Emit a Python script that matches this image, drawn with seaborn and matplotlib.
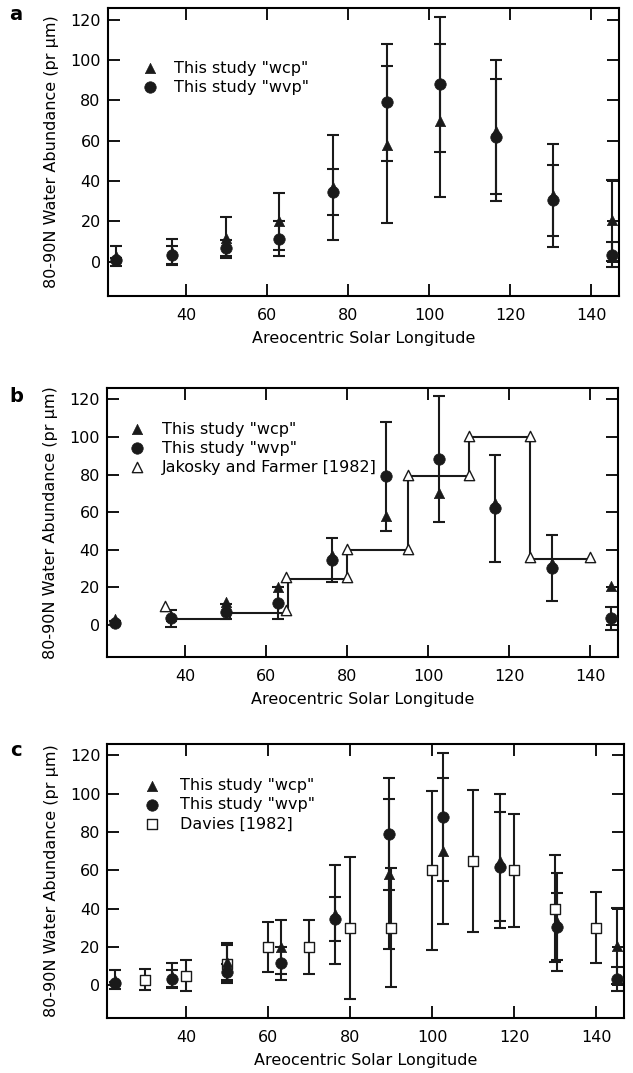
import matplotlib
matplotlib.use('Agg')
import matplotlib.pyplot as plt
import seaborn as sns

# =========== DATA ===================================
# This study, 80-90N water abundance vs areocentric solar longitude
ls_study = [22.7, 36.5, 50, 63, 76.3, 89.5, 102.7, 116.5, 130.5, 145]
wcp = [3, 5, 12, 20, 37, 58, 70, 65, 33, 20.5]
wcp_err = [5, 6.5, 10, 14, 26, 39, 38, 35, 25.5, 20]
wvp = [1, 3.5, 7, 11.5, 34.5, 79, 88, 62, 30.5, 3.5]
wvp_err = [1, 4.5, 4, 8.5, 11.5, 29, 33.5, 28.5, 17.5, 6.2]

# Jakosky and Farmer [1982]: step line plus open triangles at the step ends
jf_step_ls = [36, 51, 65.5, 80, 95, 110, 125, 140]
jf_step_val = [3, 6.5, 24.5, 40, 79, 100, 35, 35]
jf_tri_ls = [35, 65, 65, 80, 80, 95, 95, 110, 110, 125, 125, 140]
jf_tri_val = [10, 8, 25.5, 25.5, 40.5, 40.5, 79.5, 79.5, 100.5, 100.5, 36, 36]

# Davies [1982]
dav_ls = [30, 40, 50, 60, 70, 80, 90, 100, 110, 120, 130, 140]
dav_val = [3, 5, 11, 20, 20, 30, 30, 60, 65, 60, 40, 30]
dav_err = [5.5, 8, 10, 13, 14, 37, 31, 41.5, 37, 29.5, 28, 18.5]

xticks = [40, 60, 80, 100, 120, 140]
yticks = [0, 20, 40, 60, 80, 100, 120]
xlabel = 'Areocentric Solar Longitude'
ylabel = '80-90N Water Abundance (pr µm)'

# =========== STYLE =============
sns.set_theme(style='ticks')
plt.rcParams['font.family'] = ['DejaVu Sans']
plt.rcParams.update({
    'axes.linewidth': 1.5,
    'axes.edgecolor': 'black', 'axes.labelcolor': 'black', 'text.color': 'black',
    'xtick.color': 'black', 'ytick.color': 'black',
    'xtick.direction': 'in', 'ytick.direction': 'in',
    'xtick.top': True, 'ytick.right': True,
    'xtick.major.size': 8.5, 'ytick.major.size': 8.5,
    'xtick.major.width': 1.3, 'ytick.major.width': 1.3,
    'xtick.major.pad': 8.5, 'ytick.major.pad': 5,
    'xtick.labelsize': 11.5, 'ytick.labelsize': 11.5,
    'axes.labelsize': 11.5,
})

bar_kw = dict(fmt='none', ecolor='k', elinewidth=1.5, capsize=4.5, capthick=1.5, zorder=2)


def setup_axis(ax):
    ax.set_xlim(20.7, 146.8)
    ax.set_ylim(-17, 126)
    ax.set_xticks(xticks)
    ax.set_yticks(yticks)
    ax.set_xlabel(xlabel, labelpad=6)
    ax.set_ylabel(ylabel, labelpad=8)


def study_points(ax, wcp_bars=True):
    if wcp_bars:
        ax.errorbar(ls_study, wcp, yerr=wcp_err, **bar_kw)
    ax.errorbar(ls_study, wvp, yerr=wvp_err, **bar_kw)
    sns.scatterplot(x=ls_study, y=wcp, marker='^', color='k', edgecolor='k', linewidth=0.5,
                    s=55, label='This study "wcp"', ax=ax, zorder=3)
    sns.scatterplot(x=ls_study, y=wvp, marker='o', color='k', edgecolor='k', linewidth=0.5,
                    s=68, label='This study "wvp"', ax=ax, zorder=3)


def put_legend(ax, anchor, textpad):
    ax.legend(loc='upper left', bbox_to_anchor=anchor, frameon=False, fontsize=11.5,
              handlelength=1.0, handletextpad=textpad, labelspacing=0.25,
              borderpad=0, borderaxespad=0, scatterpoints=1)


fig = plt.figure(figsize=(6.33, 10.73), dpi=100)
ax_a = fig.add_axes([0.1701, 0.7241, 0.8078, 0.2689])
ax_b = fig.add_axes([0.1687, 0.3877, 0.8076, 0.2507])
ax_c = fig.add_axes([0.1695, 0.0513, 0.8163, 0.2554])

# ---- panel a
study_points(ax_a)
setup_axis(ax_a)
put_legend(ax_a, (0.068, 0.816), 0.95)

# ---- panel b
study_points(ax_b, wcp_bars=False)
sns.lineplot(x=jf_step_ls, y=jf_step_val, drawstyle='steps-post', color='k', linewidth=1.5,
             estimator=None, sort=False, ax=ax_b, zorder=2)
sns.scatterplot(x=jf_tri_ls, y=jf_tri_val, marker='^', color='white', edgecolor='k', linewidth=1.0,
                s=55, label='Jakosky and Farmer [1982]', ax=ax_b, zorder=2.5)
setup_axis(ax_b)
put_legend(ax_b, (0.043, 0.875), 1.05)

# ---- panel c
study_points(ax_c)
ax_c.errorbar(dav_ls, dav_val, yerr=dav_err, **bar_kw)
sns.scatterplot(x=dav_ls, y=dav_val, marker='s', color='white', edgecolor='k', linewidth=1.0,
                s=60, label='Davies [1982]', ax=ax_c, zorder=2.5)
setup_axis(ax_c)
put_legend(ax_c, (0.072, 0.874), 1.2)

for lab, ypix in zip(['a', 'b', 'c'], [15, 397, 750]):
    fig.text(16 / 633, 1 - ypix / 1073, lab, fontsize=14, fontweight='bold', ha='center', va='center')

fig.savefig('out.png', dpi=100)
